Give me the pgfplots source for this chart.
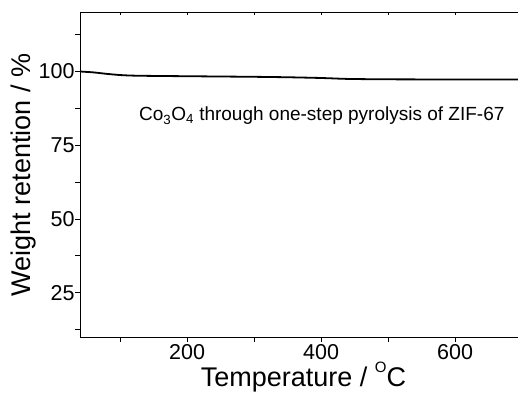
\documentclass[border=0pt]{standalone}
\usepackage{fontspec}
\setmainfont{Liberation Sans}
\usepackage{pgfplots}
\pgfplotsset{compat=1.18}
\begin{document}
\begin{tikzpicture}
\begin{axis}[
  at={(0,0)}, anchor=south west,
  width=438pt, height=324.5pt, scale only axis,
  xmin=40, xmax=694, ymin=10, ymax=120,
  axis y line*=left, axis x line*=box,
  xtick pos=bottom, ytick pos=left,
  tick align=outside,
  xtick={200,400,600}, minor xtick={100,300,500},
  ytick={25,50,75,100}, minor ytick={12.5,37.5,62.5,87.5,112.5},
  major tick length=5pt, minor tick length=5pt,
  axis line style={line width=0.8pt},
  every tick/.style={line width=0.8pt, black},
  /pgf/number format/assume math mode=true,
  tick label style={font=\fontsize{21.5}{21.5}\selectfont},
  xticklabel style={yshift=1pt},
  yticklabel style={xshift=3pt},
  xlabel={Temperature / \raisebox{0.5em}{\fontsize{15}{15}\selectfont O}C},
  ylabel={Weight retention / \%},
  label style={font=\fontsize{27}{27}\selectfont},
  xlabel style={at={(axis description cs:0.51,0)}, anchor=center, yshift=-40pt},
  ylabel style={at={(axis description cs:-0.13,0.5)}, anchor=center},
]
\addplot[black, line width=1.8pt, smooth] coordinates {
(40,100) (60,99.7) (80,99.2) (100,98.8) (120,98.6) (150,98.5) (200,98.4)
(250,98.3) (300,98.2) (350,98.05) (400,97.8) (430,97.55) (450,97.45)
(500,97.35) (600,97.3) (694,97.3)
};
\node[anchor=west, font=\fontsize{19}{19}\selectfont] at (axis cs:123,85)
  {Co\textsubscript{3}O\textsubscript{4} through one-step pyrolysis of ZIF-67};
\end{axis}
\begin{axis}[
  at={(0,0)}, anchor=south west,
  width=438pt, height=324.5pt, scale only axis,
  xmin=40, xmax=694, ymin=10, ymax=120,
  axis x line*=top, axis y line=none,
  xtick={100,200,300,400,500,600}, xticklabels={},
  tick align=inside, major tick length=3pt,
  axis line style={line width=0.8pt},
  every tick/.style={line width=0.6pt, black},
]
\end{axis}
\pgfresetboundingbox
\useasboundingbox (-80pt,-55pt) rectangle (438pt,337pt);
\end{tikzpicture}
\end{document}
